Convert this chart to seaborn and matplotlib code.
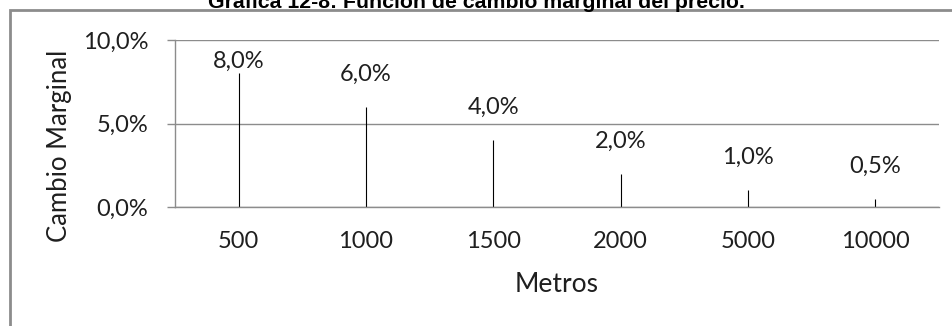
import numpy as np
import pandas as pd
import matplotlib
matplotlib.use("Agg")
import matplotlib.pyplot as plt
import seaborn as sns
from matplotlib.patches import Rectangle

metros = ["500", "1000", "1500", "2000", "5000", "10000"]
cambio = [8.0, 6.0, 4.0, 2.0, 1.0, 0.5]
yticks = [0, 5, 10]

sns.set_theme(style="white")
plt.rcParams['font.family'] = ['Lato', 'DejaVu Sans']

df = pd.DataFrame({"Metros": metros, "Cambio": cambio})
fmt = lambda v: f"{v:.1f}%".replace(".", ",")
TXT = "#1f1f1f"

fig = plt.figure(figsize=(9.53, 3.26), dpi=100)
ax = fig.add_axes([175 / 953, 1 - 207 / 326, 764 / 953, 167 / 326])

# zero-width bars drawn by their edge only -> thin drop lines
sns.barplot(data=df, x="Metros", y="Cambio", order=metros, color="black",
            width=0.0, linewidth=0.8, edgecolor="black", saturation=1, ax=ax)

# labels sit well above the line, except where that would leave the plot area
ymax = 10
near = [v > 0.7 * ymax for v in cambio]
ax.bar_label(ax.containers[0], labels=[fmt(v) if not n else "" for v, n in zip(cambio, near)],
             padding=16, fontsize=17, color=TXT)
ax.bar_label(ax.containers[0], labels=[fmt(v) if n else "" for v, n in zip(cambio, near)],
             padding=1, fontsize=17, color=TXT)

ax.set_ylim(0, ymax)
ax.set_xlim(-0.5, len(metros) - 0.5)
ax.set_yticks(yticks)
ax.set_yticklabels([fmt(v) for v in yticks], fontsize=17, color=TXT)
ax.tick_params(axis="x", labelsize=17, colors=TXT, length=0, pad=17.5)
ax.tick_params(axis="y", left=True, length=5.8, width=1, color="#8c8c8c", pad=13.5)
ax.yaxis.grid(True, color="#8c8c8c", linewidth=1)
ax.set_axisbelow(True)

for side in ["top", "right"]:
    ax.spines[side].set_visible(False)
for side in ["left", "bottom"]:
    ax.spines[side].set_color("#8c8c8c")
    ax.spines[side].set_linewidth(1)

ax.set_xlabel("Metros", fontsize=19, color=TXT, labelpad=14)
ax.set_ylabel("Cambio Marginal", fontsize=18.5, color=TXT)
ax.yaxis.set_label_coords((72 - 175) / 764, (207 - 146) / 167)

# outer chart frame
fig.patches.append(Rectangle((10 / 953, -0.05), 1.0, 1 - 10 / 326 + 0.05,
                             transform=fig.transFigure, fill=False,
                             edgecolor="#8c8c8c", linewidth=2))

fig.text(476 / 953, 1 - 7.5 / 326, "Gráfica 12-8: Función de cambio marginal del precio.",
         ha="center", va="baseline", fontsize=15.3, fontweight="bold",
         family=["Liberation Sans", "DejaVu Sans"], color="black")

fig.savefig("out.png", dpi=100)
